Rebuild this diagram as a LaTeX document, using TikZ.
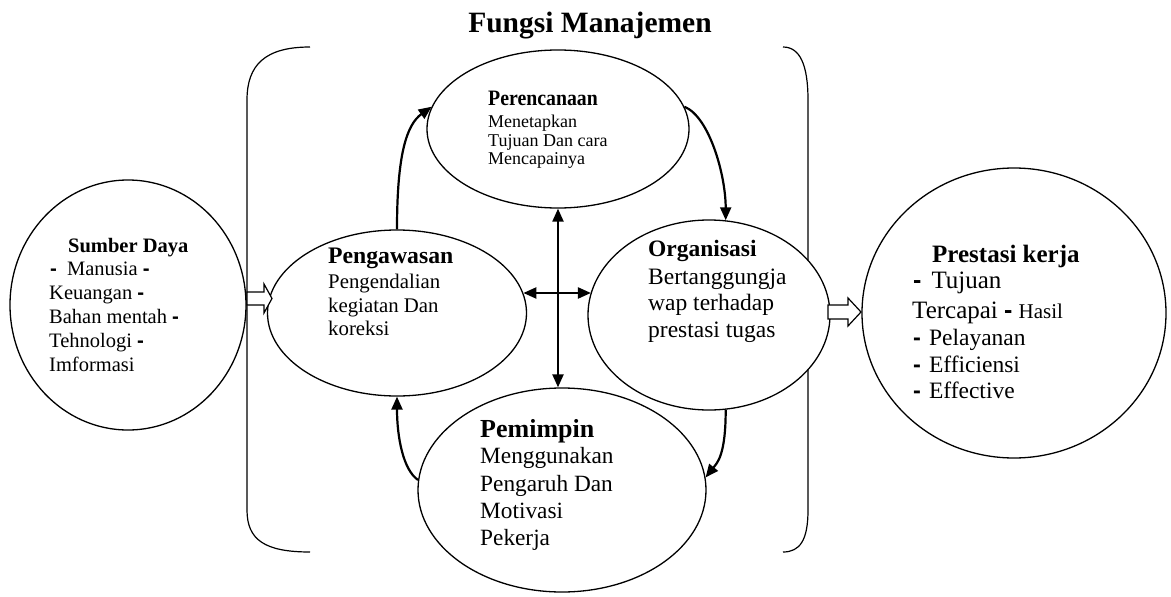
\documentclass[tikz,border=0pt]{standalone}
\usepackage{fontspec}
\setmainfont{Liberation Serif}
\setsansfont{Liberation Sans}
\usepackage{graphicx}
\usetikzlibrary{arrows.meta,shapes.geometric}

\newcommand\fs[2]{\fontsize{#1}{#2}\selectfont}
\newcommand\dsh{{\sffamily\bfseries -}}

\begin{document}
\begin{tikzpicture}[x=1pt,y=-1pt,
  bubble/.style={ellipse, draw=black, line width=1.3pt, fill=white, inner sep=0pt},
  cyclearrow/.style={line width=2.2pt, -{Triangle[length=13pt,width=11pt]}},
  twoway/.style={line width=2.2pt, {Triangle[length=13pt,width=11pt]}-{Triangle[length=13pt,width=11pt]}},
  bracketline/.style={line width=1.2pt},
  blockarrow/.style={line width=1.2pt, draw=black, fill=white},
  tx/.style={anchor=base west, inner sep=0pt}]

\useasboundingbox (0,0) rectangle (1171,597);

% title
\node[anchor=base, inner sep=0pt, font=\bfseries\fs{29.5}{32}] (title) at (590,32) {Fungsi Manajemen};

% brackets enclosing the management functions
\draw[bracketline] (310,47) .. controls (265,47) and (247,65) .. (247,100)
  -- (247,510) .. controls (247,540) and (265,552) .. (310,552);
\draw[bracketline] (783,47) .. controls (800,47) and (808,65) .. (808,100)
  -- (808,510) .. controls (808,540) and (800,552) .. (783,552);

% ellipses
\node[bubble, minimum width=236pt, minimum height=250pt] (sd) at (128,305) {};
\node[bubble, minimum width=304pt, minimum height=290pt] (pr) at (1014,313) {};
\node[bubble, minimum width=262pt, minimum height=158pt] (pc) at (558,129) {};
\node[bubble, minimum width=259pt, minimum height=166pt] (pw) at (397,313) {};
\node[bubble, minimum width=242pt, minimum height=190pt] (og) at (709,315) {};
\node[bubble, minimum width=288pt, minimum height=204pt] (pm) at (562,490) {};

% hollow block arrows
\draw[blockarrow] (247,292) -- (264,292) -- (264,284) -- (272,298.5) -- (264,313) -- (264,305) -- (247,305) -- cycle;
\draw[blockarrow] (828,305) -- (848,305) -- (848,298) -- (861,312) -- (848,326) -- (848,319) -- (828,319) -- cycle;

% cycle of functions
\draw[cyclearrow] (pw.north) .. controls +(0,-75) and +(-25,18) .. (pc.170);
\draw[cyclearrow] (pc.10) .. controls +(25,10) and +(0,-45) .. (og.80);
\draw[cyclearrow] (og.-80) .. controls +(0,45) and +(12,-15) .. (pm.5);
\draw[cyclearrow] (pm.176) .. controls +(-15,-10) and +(0,40) .. (pw.south);

% central cross
\draw[twoway] (pc.south) -- (pc.south |- pm.north);
\draw[twoway] (pw.9.5) -- (pw.9.5 -| og.169);

% Sumber Daya
\node[tx, font=\bfseries\fs{20.5}{24}] (sdh) at (68,252) {Sumber Daya};
\node[tx, font=\fs{20.5}{24}] (sd1) at (50,275) {\dsh\hspace{10pt}Manusia \dsh};
\node[tx, font=\fs{20.5}{24}] (sd2) at (49,299) {Keuangan \dsh};
\node[tx, font=\fs{20.5}{24}] (sd3) at (49,323) {Bahan mentah \dsh};
\node[tx, font=\fs{20.5}{24}] (sd4) at (49,347) {Tehnologi \dsh};
\node[tx, font=\fs{20.5}{24}] (sd5) at (49,371) {Imformasi};

% Perencanaan
\node[tx, font=\bfseries\fs{22}{24}] (pch) at (488,105) {\scalebox{0.9}[1]{Perencanaan}};
\node[tx, font=\fs{18}{20}] (pc1) at (488,127) {Menetapkan};
\node[tx, font=\fs{18}{20}] (pc2) at (488,146) {Tujuan Dan cara};
\node[tx, font=\fs{18}{20}] (pc3) at (488,164) {Mencapainya};

% Pengawasan
\node[tx, font=\bfseries\fs{23.7}{26}] (pwh) at (328,263) {Pengawasan};
\node[tx, font=\fs{20.8}{24}] (pw1) at (328,288) {Pengendalian};
\node[tx, font=\fs{20.8}{24}] (pw2) at (328,312) {kegiatan Dan};
\node[tx, font=\fs{20.8}{24}] (pw3) at (328,335) {koreksi};

% Organisasi
\node[tx, font=\bfseries\fs{23.5}{26}] (ogh) at (648,256) {Organisasi};
\node[tx, font=\fs{23.5}{26}] (og1) at (648,284) {Bertanggungja};
\node[tx, font=\fs{23.5}{26}] (og2) at (648,310) {wap terhadap};
\node[tx, font=\fs{23.5}{26}] (og3) at (648,337) {prestasi tugas};

% Pemimpin
\node[tx, font=\bfseries\fs{26}{28}] (pmh) at (480,437) {Pemimpin};
\node[tx, font=\fs{23.3}{27}] (pm1) at (480,463) {Menggunakan};
\node[tx, font=\fs{23.3}{27}] (pm2) at (480,491) {Pengaruh Dan};
\node[tx, font=\fs{23.3}{27}] (pm3) at (480,518) {Motivasi};
\node[tx, font=\fs{23.3}{27}] (pm4) at (480,545) {Pekerja};

% Prestasi kerja
\node[tx, font=\bfseries\fs{25}{28}] (prh) at (932,262) {Prestasi kerja};
\node[tx, font=\fs{25}{28}] (pr1) at (913,288) {\dsh\hspace{10pt}Tujuan};
\node[tx, font=\fs{25}{28}] (pr2) at (912,318) {Tercapai \dsh\ {\fs{21}{24}Hasil}};
\node[tx, font=\fs{23.5}{27}] (pr3) at (913,345) {\dsh\hspace{8pt}Pelayanan};
\node[tx, font=\fs{23.5}{27}] (pr4) at (913,372) {\dsh\hspace{8pt}Efficiensi};
\node[tx, font=\fs{23.5}{27}] (pr5) at (913,398) {\dsh\hspace{8pt}Effective};
\end{tikzpicture}
\end{document}
